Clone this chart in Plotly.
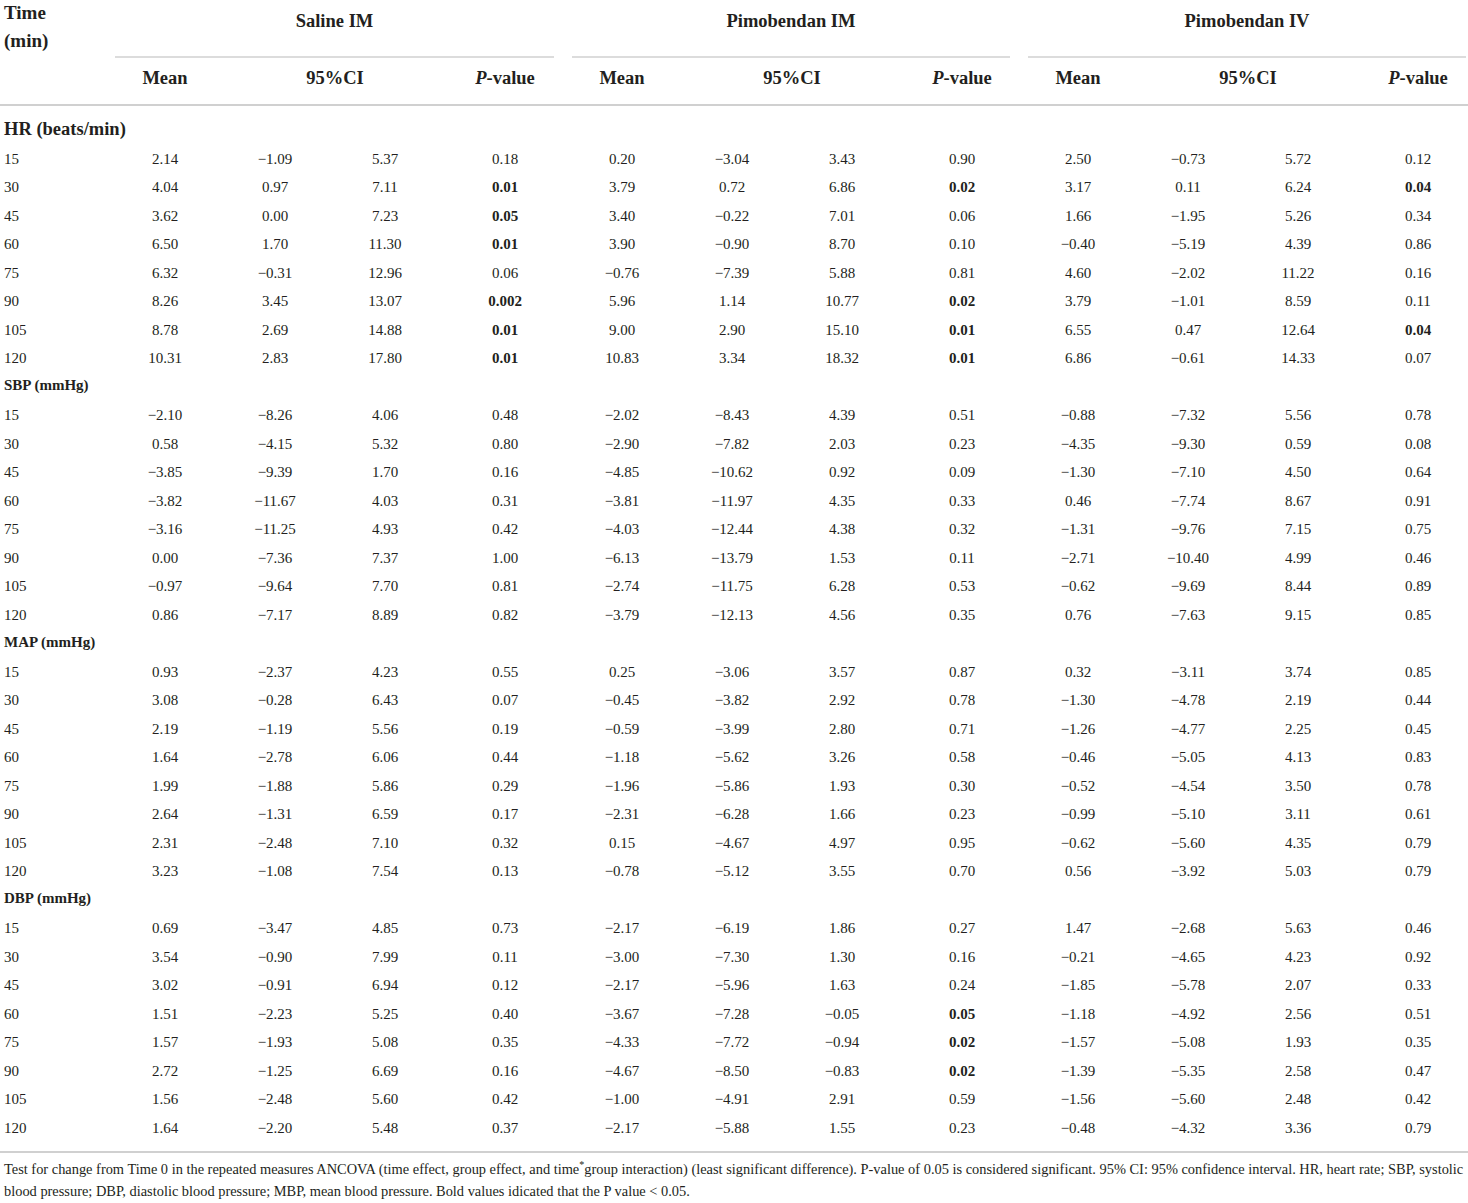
import plotly.graph_objects as go

# ------------------------------------------------------------------
# Table data: change from Time 0 (mean, 95%CI low, 95%CI high, P)
# ------------------------------------------------------------------

times = [15, 30, 45, 60, 75, 90, 105, 120]
groups = ["Saline IM", "Pimobendan IM", "Pimobendan IV"]
measures = ["HR (beats/min)", "SBP (mmHg)", "MAP (mmHg)", "DBP (mmHg)"]

hr_saline_im = [(2.14, -1.09, 5.37, "0.18"), (4.04, 0.97, 7.11, "0.01"),
                (3.62, 0.00, 7.23, "0.05"), (6.50, 1.70, 11.30, "0.01"),
                (6.32, -0.31, 12.96, "0.06"), (8.26, 3.45, 13.07, "0.002"),
                (8.78, 2.69, 14.88, "0.01"), (10.31, 2.83, 17.80, "0.01")]
hr_pimo_im = [(0.20, -3.04, 3.43, "0.90"), (3.79, 0.72, 6.86, "0.02"),
              (3.40, -0.22, 7.01, "0.06"), (3.90, -0.90, 8.70, "0.10"),
              (-0.76, -7.39, 5.88, "0.81"), (5.96, 1.14, 10.77, "0.02"),
              (9.00, 2.90, 15.10, "0.01"), (10.83, 3.34, 18.32, "0.01")]
hr_pimo_iv = [(2.50, -0.73, 5.72, "0.12"), (3.17, 0.11, 6.24, "0.04"),
              (1.66, -1.95, 5.26, "0.34"), (-0.40, -5.19, 4.39, "0.86"),
              (4.60, -2.02, 11.22, "0.16"), (3.79, -1.01, 8.59, "0.11"),
              (6.55, 0.47, 12.64, "0.04"), (6.86, -0.61, 14.33, "0.07")]

sbp_saline_im = [(-2.10, -8.26, 4.06, "0.48"), (0.58, -4.15, 5.32, "0.80"),
                 (-3.85, -9.39, 1.70, "0.16"), (-3.82, -11.67, 4.03, "0.31"),
                 (-3.16, -11.25, 4.93, "0.42"), (0.00, -7.36, 7.37, "1.00"),
                 (-0.97, -9.64, 7.70, "0.81"), (0.86, -7.17, 8.89, "0.82")]
sbp_pimo_im = [(-2.02, -8.43, 4.39, "0.51"), (-2.90, -7.82, 2.03, "0.23"),
               (-4.85, -10.62, 0.92, "0.09"), (-3.81, -11.97, 4.35, "0.33"),
               (-4.03, -12.44, 4.38, "0.32"), (-6.13, -13.79, 1.53, "0.11"),
               (-2.74, -11.75, 6.28, "0.53"), (-3.79, -12.13, 4.56, "0.35")]
sbp_pimo_iv = [(-0.88, -7.32, 5.56, "0.78"), (-4.35, -9.30, 0.59, "0.08"),
               (-1.30, -7.10, 4.50, "0.64"), (0.46, -7.74, 8.67, "0.91"),
               (-1.31, -9.76, 7.15, "0.75"), (-2.71, -10.40, 4.99, "0.46"),
               (-0.62, -9.69, 8.44, "0.89"), (0.76, -7.63, 9.15, "0.85")]

map_saline_im = [(0.93, -2.37, 4.23, "0.55"), (3.08, -0.28, 6.43, "0.07"),
                 (2.19, -1.19, 5.56, "0.19"), (1.64, -2.78, 6.06, "0.44"),
                 (1.99, -1.88, 5.86, "0.29"), (2.64, -1.31, 6.59, "0.17"),
                 (2.31, -2.48, 7.10, "0.32"), (3.23, -1.08, 7.54, "0.13")]
map_pimo_im = [(0.25, -3.06, 3.57, "0.87"), (-0.45, -3.82, 2.92, "0.78"),
               (-0.59, -3.99, 2.80, "0.71"), (-1.18, -5.62, 3.26, "0.58"),
               (-1.96, -5.86, 1.93, "0.30"), (-2.31, -6.28, 1.66, "0.23"),
               (0.15, -4.67, 4.97, "0.95"), (-0.78, -5.12, 3.55, "0.70")]
map_pimo_iv = [(0.32, -3.11, 3.74, "0.85"), (-1.30, -4.78, 2.19, "0.44"),
               (-1.26, -4.77, 2.25, "0.45"), (-0.46, -5.05, 4.13, "0.83"),
               (-0.52, -4.54, 3.50, "0.78"), (-0.99, -5.10, 3.11, "0.61"),
               (-0.62, -5.60, 4.35, "0.79"), (0.56, -3.92, 5.03, "0.79")]

dbp_saline_im = [(0.69, -3.47, 4.85, "0.73"), (3.54, -0.90, 7.99, "0.11"),
                 (3.02, -0.91, 6.94, "0.12"), (1.51, -2.23, 5.25, "0.40"),
                 (1.57, -1.93, 5.08, "0.35"), (2.72, -1.25, 6.69, "0.16"),
                 (1.56, -2.48, 5.60, "0.42"), (1.64, -2.20, 5.48, "0.37")]
dbp_pimo_im = [(-2.17, -6.19, 1.86, "0.27"), (-3.00, -7.30, 1.30, "0.16"),
               (-2.17, -5.96, 1.63, "0.24"), (-3.67, -7.28, -0.05, "0.05"),
               (-4.33, -7.72, -0.94, "0.02"), (-4.67, -8.50, -0.83, "0.02"),
               (-1.00, -4.91, 2.91, "0.59"), (-2.17, -5.88, 1.55, "0.23")]
dbp_pimo_iv = [(1.47, -2.68, 5.63, "0.46"), (-0.21, -4.65, 4.23, "0.92"),
               (-1.85, -5.78, 2.07, "0.33"), (-1.18, -4.92, 2.56, "0.51"),
               (-1.57, -5.08, 1.93, "0.35"), (-1.39, -5.35, 2.58, "0.47"),
               (-1.56, -5.60, 2.48, "0.42"), (-0.48, -4.32, 3.36, "0.79")]

table = [
    [hr_saline_im, hr_pimo_im, hr_pimo_iv],
    [sbp_saline_im, sbp_pimo_im, sbp_pimo_iv],
    [map_saline_im, map_pimo_im, map_pimo_iv],
    [dbp_saline_im, dbp_pimo_im, dbp_pimo_iv],
]

footnote = [
    "Test for change from Time 0 in the repeated measures ANCOVA (time effect, group effect, and time<sup>*</sup>group "
    "interaction) (least significant difference). P-value of 0.05 is considered significant. 95% CI: 95% confidence "
    "interval. HR, heart rate; SBP, systolic",
    "blood pressure; DBP, diastolic blood pressure; MBP, mean blood pressure. Bold values idicated that the P value &lt; 0.05.",
]

# ------------------------------------------------------------------
# Layout (pixel space)
# ------------------------------------------------------------------

W, H = 1468, 1203
SERIF = "Liberation Serif"
TXT = "#231f20"
RULE = "#d0d0d0"

group_left = [115, 572, 1028]
group_right = [554, 1010, 1466]
col_offsets = [50, 160, 270, 390]   # mean, CI low, CI high, P
first_row_y = 160
pitch = 28.5
dy = 2  # text baseline nudge


def fmt(v):
    s = f"{v:.2f}"
    return s.replace("-", "\u2212")


cell_x, cell_y, cell_t = [], [], []
lab_x, lab_y, lab_t = [], [], []
sec_x, sec_y, sec_t, sec_s = [], [], [], []

k = -1
for mi, name in enumerate(measures):
    sec_x.append(4)
    sec_y.append(first_row_y + pitch * k - 1.5)
    sec_t.append(f"<b>{name}</b>")
    sec_s.append(18.5 if mi == 0 else 15)
    k += 1
    for ti, t in enumerate(times):
        y = first_row_y + pitch * k
        lab_x.append(4)
        lab_y.append(y)
        lab_t.append(str(t))
        for gi in range(len(groups)):
            mean, lo, hi, p = table[mi][gi][ti]
            vals = [fmt(mean), fmt(lo), fmt(hi), p]
            if float(p) <= 0.05:
                vals[3] = f"<b>{p}</b>"
            for ci, v in enumerate(vals):
                cell_x.append(group_left[gi] + col_offsets[ci])
                cell_y.append(y)
                cell_t.append(v)
        k += 1

fig = go.Figure()

fig.add_trace(go.Scatter(
    x=cell_x, y=cell_y, text=cell_t, mode="text",
    textposition="middle center",
    textfont=dict(family=SERIF, size=15, color=TXT),
    hoverinfo="skip",
))
fig.add_trace(go.Scatter(
    x=lab_x, y=lab_y, text=lab_t, mode="text",
    textposition="middle right",
    textfont=dict(family=SERIF, size=15, color=TXT),
    hoverinfo="skip",
))
fig.add_trace(go.Scatter(
    x=sec_x, y=sec_y, text=sec_t, mode="text",
    textposition="middle right",
    textfont=dict(family=SERIF, size=sec_s, color=TXT),
    hoverinfo="skip",
))

# headers
hx, hy, ht = [], [], []
for gi, g in enumerate(groups):
    hx.append((group_left[gi] + group_right[gi]) / 2)
    hy.append(20 + dy)
    ht.append(f"<b>{g}</b>")
    for lbl, off in zip(["Mean", "95%CI", "<i>P</i>-value"], [50, 220, 390]):
        hx.append(group_left[gi] + off)
        hy.append(77 + dy)
        ht.append(f"<b>{lbl}</b>")
fig.add_trace(go.Scatter(
    x=hx, y=hy, text=ht, mode="text", textposition="middle center",
    textfont=dict(family=SERIF, size=18.5, color=TXT), hoverinfo="skip",
))
fig.add_trace(go.Scatter(
    x=[4, 4], y=[12 + dy, 40 + dy], text=["<b>Time</b>", "<b>(min)</b>"], mode="text",
    textposition="middle right",
    textfont=dict(family=SERIF, size=19, color=TXT), hoverinfo="skip",
))
fig.add_trace(go.Scatter(
    x=[4, 4], y=[1168 + dy, 1190 + dy], text=footnote, mode="text",
    textposition="middle right",
    textfont=dict(family=SERIF, size=14.4, color=TXT), hoverinfo="skip",
))

# rules
for gi in range(len(groups)):
    fig.add_shape(type="line", x0=group_left[gi], x1=group_right[gi], y0=57, y1=57,
                  line=dict(color=RULE, width=1.5))
fig.add_shape(type="line", x0=0, x1=W, y0=105, y1=105, line=dict(color=RULE, width=2))
fig.add_shape(type="line", x0=0, x1=W, y0=1152, y1=1152, line=dict(color=RULE, width=2))

fig.update_layout(
    width=W, height=H,
    margin=dict(l=0, r=0, t=0, b=0),
    paper_bgcolor="white", plot_bgcolor="white",
    showlegend=False,
    xaxis=dict(range=[0, W], visible=False, fixedrange=True),
    yaxis=dict(range=[H, 0], visible=False, fixedrange=True),
)

# drop the default page margin so the table sits flush with the window
fig.write_html("out.html", config={"displayModeBar": False},
               post_script="document.body.style.margin='0';")
